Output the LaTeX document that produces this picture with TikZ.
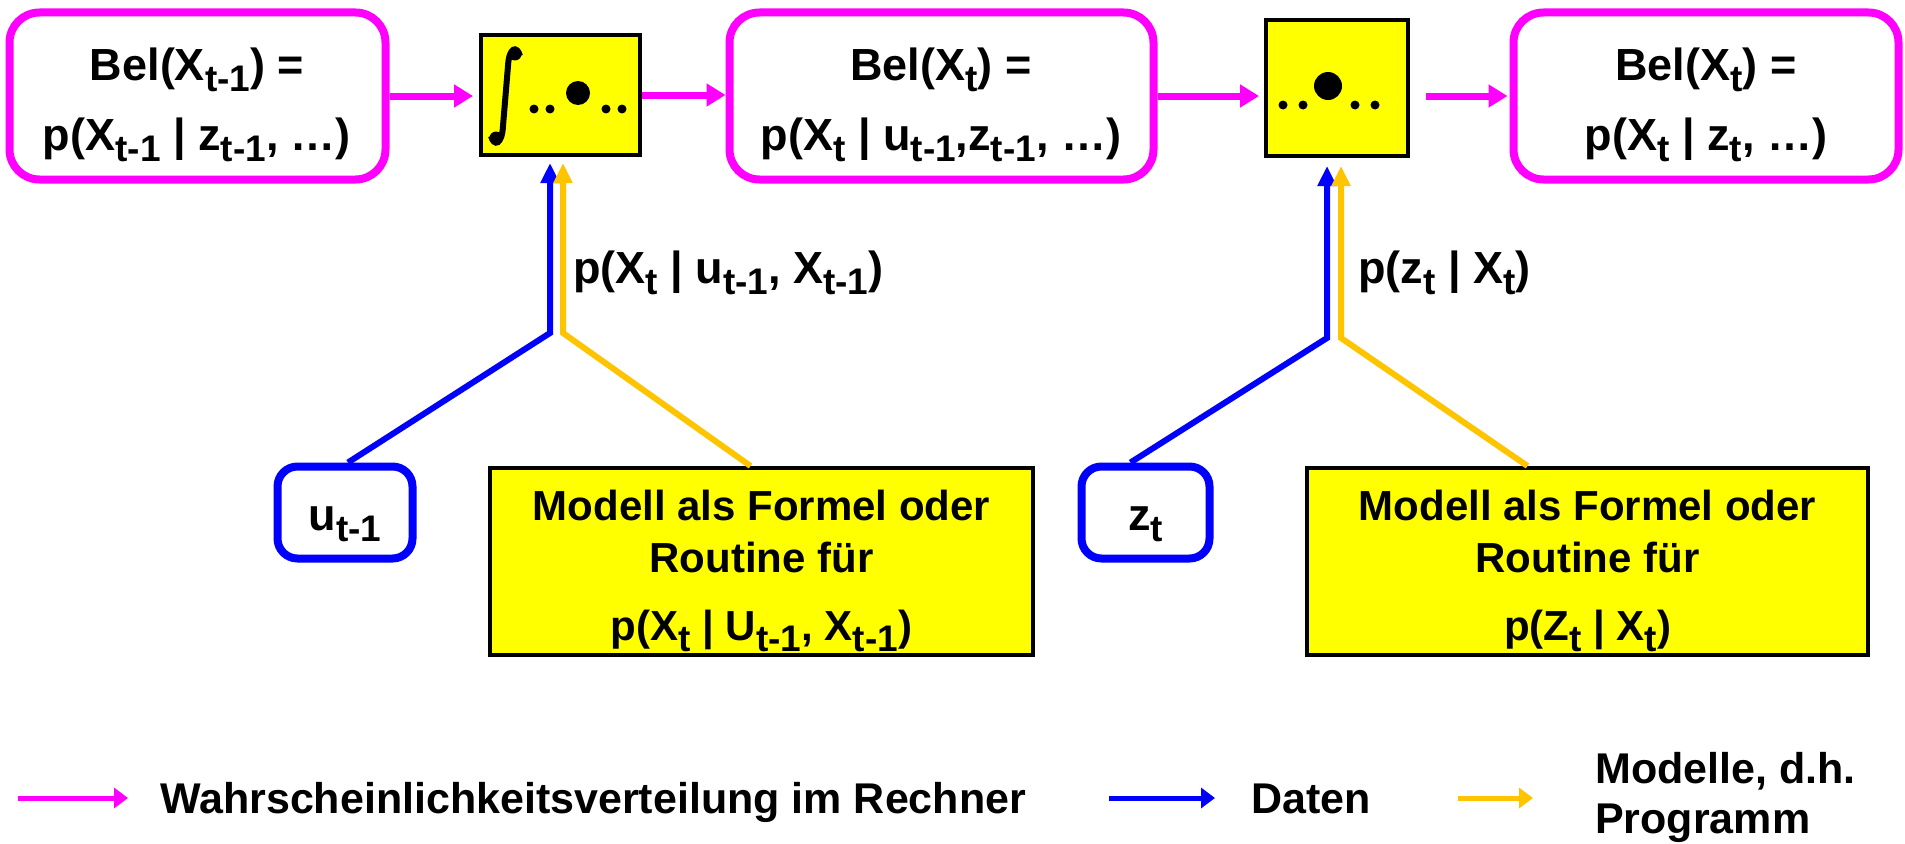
\documentclass[tikz,border=0pt]{standalone}
\usepackage{graphicx}
\usepackage{fontspec}
\setmainfont{Liberation Sans}
\usetikzlibrary{arrows.meta}
\definecolor{mag}{HTML}{FF00FF}
\definecolor{dblue}{HTML}{0000FF}
\definecolor{ylw}{HTML}{FFFF00}
\definecolor{amber}{HTML}{FFC400}
% lowered, smaller index text
\newcommand\sbs[1]{\raisebox{-11pt}{\fontsize{37}{37}\selectfont #1}}
\begin{document}
\begin{tikzpicture}[x=1pt,y=-1pt,
  belbox/.style={draw=mag, line width=8pt, rounded corners=30pt, fill=white, inner sep=0},
  opbox/.style={draw=black, line width=4pt, fill=ylw, inner sep=0},
  datbox/.style={draw=dblue, line width=8pt, rounded corners=20pt, fill=white, inner sep=0},
  modbox/.style={draw=black, line width=4pt, fill=ylw, inner sep=0},
  txt/.style={font=\fontsize{45}{45}\selectfont\bfseries, anchor=base, inner sep=0},
  mtxt/.style={font=\fontsize{42}{42}\selectfont\bfseries, anchor=base, inner sep=0},
  plbl/.style={font=\fontsize{45}{45}\selectfont\bfseries, anchor=base west, inner sep=0},
  lbl/.style={font=\fontsize{43}{43}\selectfont\bfseries, anchor=base west, inner sep=0},
  probarrow/.style={draw=mag, line width=7pt, -{Triangle[length=19pt,width=22pt]}},
  datarrow/.style={draw=dblue, line width=6pt, line join=miter, -{Triangle[length=20pt,width=18pt]}},
  modarrow/.style={draw=amber, line width=6pt, line join=miter, -{Triangle[length=20pt,width=18pt]}},
  legarrow/.style={line width=5pt, -{Triangle[length=14pt,width=20pt]}},
  dot/.style={fill=black}
]
\useasboundingbox (0,0) rectangle (1905,843);

% belief boxes
\node[belbox, minimum width=376pt, minimum height=167pt] (b1) at (197.5,96) {};
\node[belbox, minimum width=424pt, minimum height=167pt] (b2) at (941.5,96) {};
\node[belbox, minimum width=385pt, minimum height=167pt] (b3) at (1706,96) {};

\node[txt] (b1a) at (197,80) {Bel(X\sbs{t-1}) =};
\node[txt] (b1b) at (197,150) {p(X\sbs{t-1} | z\sbs{t-1}, …)};
\node[txt] (b2a) at (941,80) {Bel(X\sbs{t}) =};
\node[txt] (b2b) at (941,150) {p(X\sbs{t} | u\sbs{t-1},z\sbs{t-1}, …)};
\node[txt] (b3a) at (1706,80) {Bel(X\sbs{t}) =};
\node[txt] (b3b) at (1706,150) {p(X\sbs{t} | z\sbs{t}, …)};

% operator boxes
\node[opbox, minimum width=159pt, minimum height=120pt] (ibox) at (560.5,95) {};
\node[opbox, minimum width=142pt, minimum height=136pt] (dbox) at (1337,88) {};

% integral sign with ball terminals
\draw[line width=6pt] (520,56) .. controls (517,45) and (509,47) .. (508,66)
  -- (503,126) .. controls (502,145) and (494,147) .. (491,136);
\fill[dot] (515,54) circle (6.5);
\fill[dot] (496,138) circle (6.5);
\fill[dot] (578,93) circle (12);
\foreach \x in {534,550,606,622} \fill[dot] (\x,109) circle (4.5);
\fill[dot] (1328,86) circle (14);
\foreach \x in {1283,1303,1355,1375} \fill[dot] (\x,105) circle (4.5);

% flow of the belief
\draw[probarrow, shorten >=6pt] (b1.east) -- (b1.east -| ibox.west);
\draw[probarrow] (ibox.east) -- (ibox.east -| b2.west);
\draw[probarrow, shorten >=5pt] (b2.east) -- (b2.east -| dbox.west);
\coordinate (d3) at ([xshift=16pt]dbox.east);
\draw[probarrow, shorten >=2pt] (d3 |- b3.west) -- (b3.west);

% inputs: data and models
\node[datbox, minimum width=135pt, minimum height=92pt] (ubox) at (345,512.5) {};
\node[txt] (ut) at (345,530) {u\sbs{t-1}};
\node[modbox, minimum width=543pt, minimum height=187pt] (m1) at (761.5,561.5) {};
\node[mtxt] (m1a) at (761.5,520) {Modell als Formel oder};
\node[mtxt] (m1b) at (761.5,572) {Routine für};
\node[mtxt] (m1c) at (761.5,640) {p(X\sbs{t} | U\sbs{t-1}, X\sbs{t-1})};

\node[datbox, minimum width=128pt, minimum height=92pt] (zbox) at (1145.5,512.5) {};
\node[txt] (zt) at (1145.5,530) {z\sbs{t}};
\node[modbox, minimum width=561pt, minimum height=187pt] (m2) at (1587.5,561.5) {};
\node[mtxt] (m2a) at (1587.5,520) {Modell als Formel oder};
\node[mtxt] (m2b) at (1587.5,572) {Routine für};
\node[mtxt] (m2c) at (1587.5,640) {p(Z\sbs{t} | X\sbs{t})};

\coordinate (jb1) at (550,333);
\coordinate (jy1) at (563,333);
\coordinate (jb2) at (1327,338);
\coordinate (jy2) at (1341,338);

\draw[datarrow, shorten >=6pt] ([xshift=3pt]ubox.north) -- (jb1) -- (jb1 |- ibox.south);
\draw[modarrow, shorten >=6pt] ([xshift=-11pt]m1.north) -- (jy1) -- (jy1 |- ibox.south);
\draw[datarrow, shorten >=8pt] ([xshift=-15pt]zbox.north) -- (jb2) -- (jb2 |- dbox.south);
\draw[modarrow, shorten >=8pt] ([xshift=-60pt]m2.north) -- (jy2) -- (jy2 |- dbox.south);

\node[plbl] (l1) at (573,283) {p(X\sbs{t} | u\sbs{t-1}, X\sbs{t-1})};
\node[plbl] (l2) at (1358,283) {p(z\sbs{t} | X\sbs{t})};

% legend
\coordinate (pa) at (18,798);
\coordinate (pb) at (128,798);
\coordinate (da) at (1109,798);
\coordinate (db) at (1215,798);
\coordinate (ma) at (1458,798);
\coordinate (mb) at (1533,798);
\draw[legarrow, draw=mag] (pa) -- (pb);
\draw[legarrow, draw=dblue] (da) -- (db);
\draw[legarrow, draw=amber] (ma) -- (mb);
\node[lbl] (lg1) at (160,813) {Wahrscheinlichkeitsverteilung im Rechner};
\node[lbl] (lg2) at (1251,813) {Daten};
\node[lbl] (lg3) at (1595,783) {Modelle, d.h.};
\node[lbl] (lg4) at (1595,833) {Programm};
\end{tikzpicture}
\end{document}
